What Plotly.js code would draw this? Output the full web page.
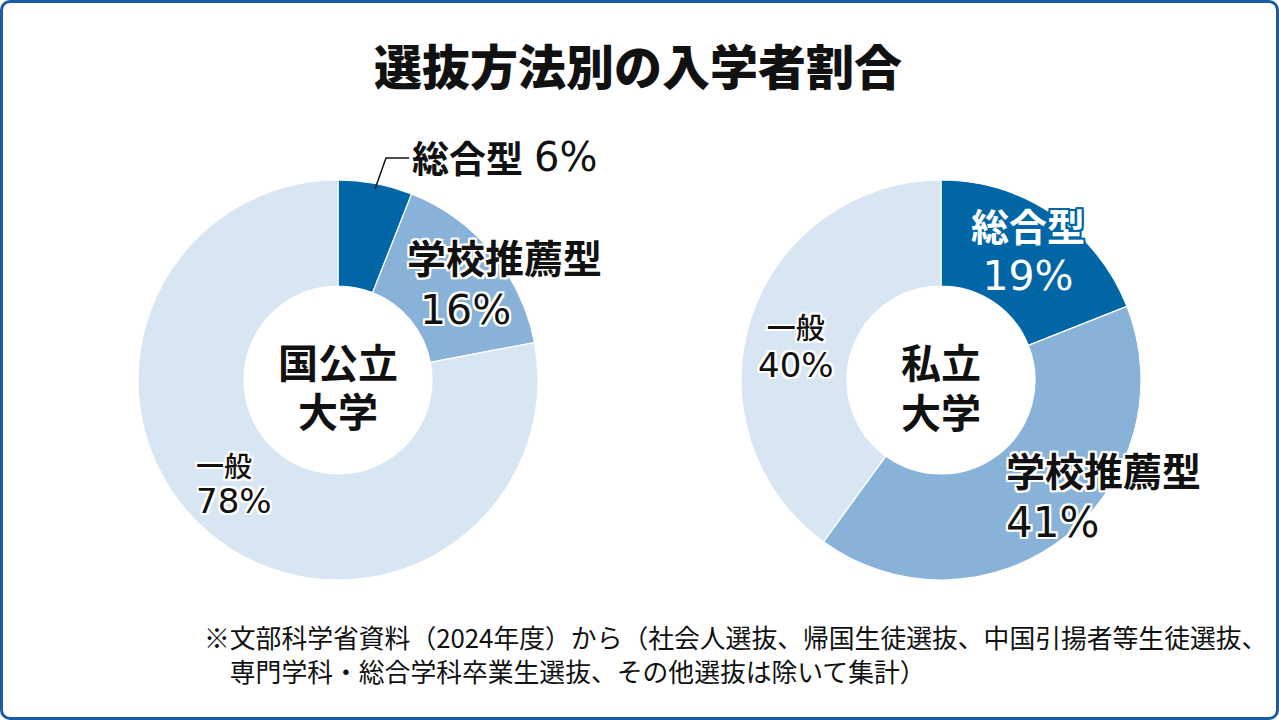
<!DOCTYPE html>
<html>
<head>
<meta charset="utf-8">
<script src="https://cdn.plot.ly/plotly-3.0.1.min.js"></script>
<style>
  html, body { margin: 0; padding: 0; background: #fff; }
  #wrap { position: relative; width: 1279px; height: 720px; }
  #chart { width: 1279px; height: 720px; }
  #frame { position: absolute; left: 0; top: 0; width: 1279px; height: 720px; box-sizing: border-box;
           border: 3px solid #1a5ca4; border-radius: 10px; pointer-events: none; }
</style>
</head>
<body>
<div id="wrap"><div id="chart"></div><div id="frame"></div></div>
<script>
// ---- data ----
const categories = ['総合型', '学校推薦型', '一般'];
const kokkoValues = [6, 16, 78];      // 国公立大学
const shiritsuValues = [19, 41, 40];  // 私立大学
const groupNames = [['国公立', '大学'], ['私立', '大学']];
const titleText = '選抜方法別の入学者割合';
const noteLines = [
  '※文部科学省資料（2024年度）から（社会人選抜、帰国生徒選抜、中国引揚者等生徒選抜、',
  '　専門学科・総合学科卒業生選抜、その他選抜は除いて集計）'
];

// ---- styles ----
const sliceColors = ['#0066a6', '#88b2d7', '#d8e5f2'];
const W = 1279, H = 720;
const px = x => x / W;
const py = y => 1 - y / H;
const CJK = '"Noto Sans CJK JP", "Noto Sans", sans-serif';
const NUM = '"DejaVu Sans", "Noto Sans", sans-serif';
function haloOf(c) {
  return ['-2px -2px', '2px -2px', '-2px 2px', '2px 2px', '0 2px', '0 -2px', '2px 0', '-2px 0']
    .map(o => o + ' 0 ' + c).join(', ');
}
const halo = haloOf('#fff');
const darkHalo = haloOf('#0066a6');

function pie(values, x0, x1, y0, y1) {
  return {
    type: 'pie', labels: categories, values: values, sort: false,
    direction: 'clockwise', rotation: 0, hole: 0.47,
    marker: { colors: sliceColors, line: { width: 1.2, color: '#ffffff' } },
    textinfo: 'none', hoverinfo: 'label+percent', showlegend: false,
    domain: { x: [px(x0), px(x1)], y: [py(y1), py(y0)] }
  };
}

const data = [
  pie(kokkoValues, 138, 538, 180, 580),
  pie(shiritsuValues, 741, 1141, 180, 580)
];

function ann(text, x, y, opts) {
  const o = opts || {};
  return {
    text: text, x: px(x), y: py(y), xref: 'paper', yref: 'paper',
    xanchor: o.xanchor || 'left', yanchor: 'middle', showarrow: false, align: o.align || 'left',
    borderpad: 0,
    font: { family: o.family || CJK, size: o.size || 38, color: o.color || '#111',
            weight: o.weight || 700, shadow: o.shadow || 'none' }
  };
}
function pct(v, size, lead) {
  return '<span style="font-family:\'DejaVu Sans\';font-weight:400;font-size:' + size + 'px">' +
         (lead ? '&nbsp;' : '') + v + '%</span>';
}

const annotations = [
  // title
  ann(titleText, 638, 64, { xanchor: 'center', size: 48, weight: 900 }),
  // left donut
  ann(categories[0], 411, 157, { size: 37, shadow: halo }),
  ann(kokkoValues[0] + '%', 533, 157, { size: 40, family: NUM, weight: 400, shadow: halo }),
  ann(categories[1] + '<br>' + pct(kokkoValues[1], 41, true), 406, 281, { size: 39, shadow: halo }),
  ann(categories[2] + '<br>' + pct(kokkoValues[2], 34), 195, 483, { size: 28, weight: 500, shadow: halo }),
  ann(groupNames[0][0], 338, 361, { xanchor: 'center', size: 40, weight: 700 }),
  ann(groupNames[0][1], 338, 410, { xanchor: 'center', size: 40, weight: 700 }),
  // right donut
  ann(categories[0] + '<br>' + pct(shiritsuValues[0], 41), 1028, 248,
      { xanchor: 'center', align: 'center', size: 38, color: '#fff', shadow: darkHalo }),
  ann(categories[2] + '<br>' + pct(shiritsuValues[2], 34), 796, 345,
      { xanchor: 'center', align: 'center', size: 29, weight: 500, shadow: halo }),
  ann(categories[1] + '<br>' + pct(shiritsuValues[1], 42), 1005, 494, { size: 39, shadow: halo }),
  ann(groupNames[1][0], 941, 361, { xanchor: 'center', size: 40, weight: 700 }),
  ann(groupNames[1][1], 941, 411, { xanchor: 'center', size: 40, weight: 700 }),
  // footnote
  ann(noteLines.join('<br>'), 203, 653, { size: 25.8, weight: 400 })
];

const shapes = [
  { type: 'path', xref: 'paper', yref: 'paper',
    path: 'M ' + px(375) + ' ' + py(189) + ' L ' + px(386) + ' ' + py(158) + ' L ' + px(409) + ' ' + py(158),
    line: { color: '#111', width: 1.5 } }
];

const layout = {
  width: W, height: H,
  margin: { l: 0, r: 0, t: 0, b: 0 },
  paper_bgcolor: '#fff', plot_bgcolor: '#fff',
  annotations: annotations, shapes: shapes,
  showlegend: false
};

Plotly.newPlot('chart', data, layout, { displayModeBar: false, staticPlot: true });
</script>
</body>
</html>
